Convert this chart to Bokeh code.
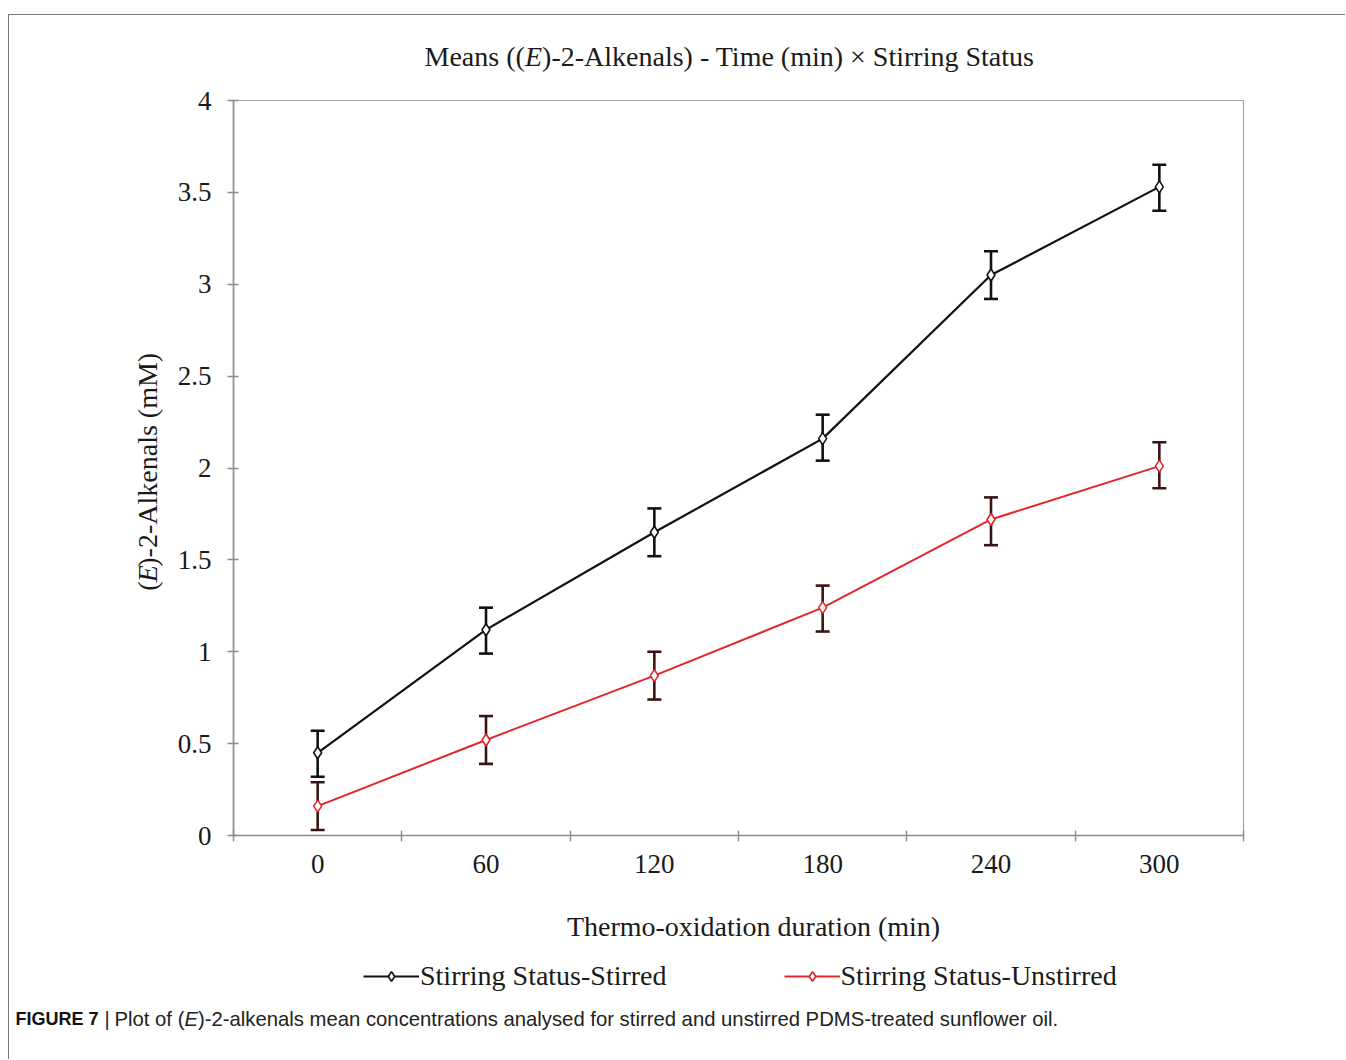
import math
from bokeh.plotting import figure
from bokeh.models import (Range1d, FixedTicker, ColumnDataSource, Whisker, TeeHead,
                          Label, Legend, LegendItem, Spacer)
from bokeh.layouts import row, column
from bokeh.embed import file_html
from bokeh.resources import INLINE

# ---------------- data ----------------
times = [0, 60, 120, 180, 240, 300]
x_tick_labels = ["0", "60", "120", "180", "240", "300"]
y_ticks = [0, 0.5, 1, 1.5, 2, 2.5, 3, 3.5, 4]
y_tick_labels = ["0", "0.5", "1", "1.5", "2", "2.5", "3", "3.5", "4"]

stirred_mean = [0.45, 1.12, 1.65, 2.16, 3.05, 3.53]
stirred_lower = [0.32, 0.99, 1.52, 2.04, 2.92, 3.40]
stirred_upper = [0.57, 1.24, 1.78, 2.29, 3.18, 3.65]

unstirred_mean = [0.16, 0.52, 0.87, 1.24, 1.72, 2.01]
unstirred_lower = [0.03, 0.39, 0.74, 1.11, 1.58, 1.89]
unstirred_upper = [0.29, 0.65, 1.00, 1.36, 1.84, 2.14]

series_names = ["Stirring Status-Stirred", "Stirring Status-Unstirred"]

# ---------------- layout constants (page pixels) ----------------
OX, OY = 9, 15                 # content origin on the page (inside the border)
W = 1336                       # content width
BOTTOM = 1059                  # content bottom on the page
FL, FR, FT, FB = 233, 1243, 100, 835   # plot frame on the page
MAIN_TOP, MAIN_BOTTOM = 80, 885        # main figure extent on the page
AXIS_W = 64                            # room for the y tick labels
X0, X1 = -30, 330
Y0, Y1 = 0, 4

SERIF = "Liberation Serif"
SANS = "Liberation Sans"
TXT = "#1a1a1a"
AX = "#8c8c8c"
RED = "#e3262c"


def text_fig(x_left, x_right, y_top, y_bottom):
    """A bare figure whose data coordinates equal page pixels (y downwards)."""
    f = figure(width=x_right - x_left, height=y_bottom - y_top,
               output_backend="svg", toolbar_location=None,
               x_range=Range1d(x_left, x_right), y_range=Range1d(y_bottom, y_top),
               x_axis_location=None, y_axis_location=None,
               min_border=0, min_border_left=0, min_border_right=0,
               min_border_top=0, min_border_bottom=0,
               background_fill_color="white", border_fill_color="white")
    f.grid.visible = False
    f.outline_line_color = None
    return f


def lab(f, px, py, text, size="28px", font=SERIF, style="normal", align="left",
        angle=0, color=TXT):
    f.add_layout(Label(x=px, y=py, text=text, text_font=font,
                       text_font_size=size, text_font_style=style,
                       text_align=align, text_baseline="middle",
                       angle=angle, text_color=color))


# ---------------- main plot ----------------
ylab_w = FL - OX - AXIS_W
main_w = W - ylab_w
p = figure(width=main_w, height=MAIN_BOTTOM - MAIN_TOP,
           output_backend="svg", toolbar_location=None,
           x_range=Range1d(X0, X1), y_range=Range1d(Y0, Y1),
           min_border_left=AXIS_W, min_border_right=(OX + W) - FR,
           min_border_top=FT - MAIN_TOP, min_border_bottom=MAIN_BOTTOM - FB,
           background_fill_color="white", border_fill_color="white")
p.xgrid.visible = False
p.ygrid.visible = False
p.outline_line_color = "#a6a6a6"
p.outline_line_width = 1.2

bounds = [t - 30 for t in times] + [times[-1] + 30]
p.xaxis.ticker = FixedTicker(ticks=times, minor_ticks=bounds)
p.xaxis.major_label_overrides = {t: lab_ for t, lab_ in zip(times, x_tick_labels)}
p.xaxis.axis_line_color = AX
p.xaxis.axis_line_width = 1.6
p.xaxis.major_tick_line_color = None
p.xaxis.major_tick_in = 0
p.xaxis.major_tick_out = 0
p.xaxis.minor_tick_line_color = AX
p.xaxis.minor_tick_line_width = 1.4
p.xaxis.minor_tick_in = 5
p.xaxis.minor_tick_out = 6
p.xaxis.major_label_standoff = 13
p.xaxis.major_label_text_font = SERIF
p.xaxis.major_label_text_font_size = "27px"
p.xaxis.major_label_text_color = TXT

p.yaxis.ticker = FixedTicker(ticks=y_ticks, minor_ticks=[])
p.yaxis.major_label_overrides = {float(t): lab_ for t, lab_ in zip(y_ticks, y_tick_labels)}
p.yaxis.axis_line_color = AX
p.yaxis.axis_line_width = 1.6
p.yaxis.major_tick_line_color = AX
p.yaxis.major_tick_line_width = 1.4
p.yaxis.major_tick_in = 5
p.yaxis.major_tick_out = 6
p.yaxis.minor_tick_line_color = None
p.yaxis.major_label_standoff = 16
p.yaxis.major_label_text_font = SERIF
p.yaxis.major_label_text_font_size = "27px"
p.yaxis.major_label_text_color = TXT

src_s = ColumnDataSource(dict(x=times, y=stirred_mean, lo=stirred_lower, hi=stirred_upper))
src_u = ColumnDataSource(dict(x=times, y=unstirred_mean, lo=unstirred_lower, hi=unstirred_upper))

line_kw = [dict(line_color="#111111", line_width=2.2), dict(line_color=RED, line_width=2.0)]
mark_kw = [dict(marker="diamond", size=12, fill_color="white", line_color="#111111", line_width=1.6),
           dict(marker="diamond", size=12, fill_color="white", line_color=RED, line_width=1.6)]

p.line("x", "y", source=src_s, **line_kw[0])
p.line("x", "y", source=src_u, **line_kw[1])

for src, col in ((src_s, "#111111"), (src_u, "#3a1414")):
    w = Whisker(source=src, base="x", lower="lo", upper="hi",
                line_color=col, line_width=2.6,
                upper_head=TeeHead(size=14, line_color=col, line_width=2.6),
                lower_head=TeeHead(size=14, line_color=col, line_width=2.6))
    p.add_layout(w)

p.scatter("x", "y", source=src_s, **mark_kw[0])
p.scatter("x", "y", source=src_u, **mark_kw[1])

# ---------------- title ----------------
top = text_fig(OX, OX + W, OY, MAIN_TOP)
lab(top, 424, 56, "Means ((")
lab(top, 524.5, 56, "E", style="italic")
lab(top, 541.6, 56, ")-2-Alkenals) - Time (min) \u00d7 Stirring Status")

# ---------------- y axis title ----------------
yl = text_fig(OX, OX + ylab_w, MAIN_TOP, MAIN_BOTTOM)
ang = math.pi / 2
YS = 24  # empirical shift for rotated text anchors
lab(yl, 147, 593 + YS, "(", angle=ang)
lab(yl, 147, 583.7 + YS, "E", style="italic", angle=ang)
lab(yl, 147, 566.6 + YS, ")-2-Alkenals (mM)", angle=ang)

# ---------------- x axis title, legend, caption ----------------
bot = text_fig(OX, OX + W, MAIN_BOTTOM, BOTTOM)
lab(bot, 753, 926, "Thermo-oxidation duration (min)", align="center")

# legend renderers: the same series, which fall outside this panel's ranges
k1 = bot.line("x", "y", source=src_s, **line_kw[0])
m1 = bot.scatter("x", "y", source=src_s, **mark_kw[0])
k2 = bot.line("x", "y", source=src_u, **line_kw[1])
m2 = bot.scatter("x", "y", source=src_u, **mark_kw[1])
legend = Legend(items=[LegendItem(label=series_names[0], renderers=[k1, m1]),
                       LegendItem(label=series_names[1], renderers=[k2, m2])],
                orientation="horizontal", location=(363 - OX, BOTTOM - 992),
                glyph_width=56, glyph_height=24, label_standoff=1, spacing=117,
                padding=0, margin=0, border_line_color=None,
                background_fill_alpha=0,
                label_text_font=SERIF, label_text_font_size="28px",
                label_text_color=TXT)
bot.add_layout(legend)

CY = 1018
lab(bot, 15, CY, "FIGURE 7", size="18px", font=SANS, style="bold", color="#111111")
lab(bot, 104, CY, "|", size="20px", font=SANS, color="#222222")
lab(bot, 114, CY, "Plot of (", size="20.3px", font=SANS, color="#222222")
lab(bot, 184, CY, "E", size="20.3px", font=SANS, style="italic", color="#222222")
lab(bot, 197.5, CY, ")-2-alkenals mean concentrations analysed for stirred and unstirred "
                    "PDMS-treated sunflower oil.", size="20.3px", font=SANS, color="#222222")

inner = column(top, row(yl, p), bot)
inner.styles = {"border-top": "1px solid #7a7a7a", "border-left": "1px solid #7a7a7a"}
layout = row(Spacer(width=8), column(Spacer(height=14), inner))
open("out.html", "w").write(file_html(layout, INLINE))
